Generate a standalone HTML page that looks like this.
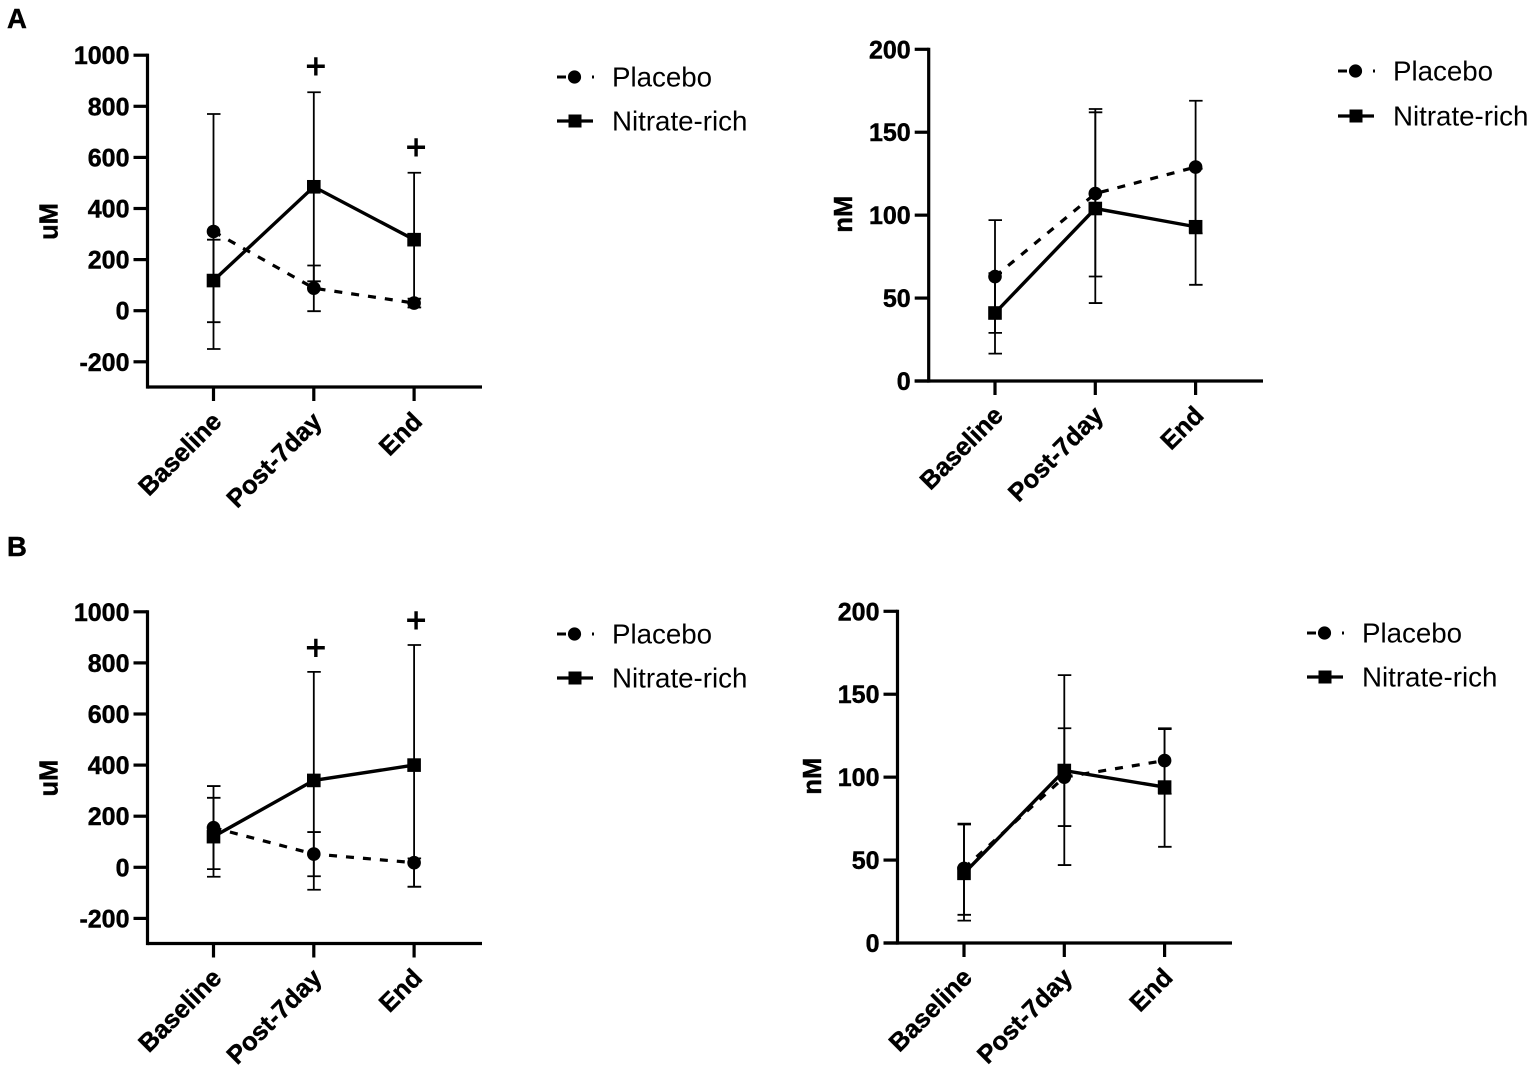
<!DOCTYPE html>
<html>
<head>
<meta charset="utf-8">
<title>Placebo vs Nitrate-rich panels</title>
<style>
html,body{margin:0;padding:0;background:#fff;}
svg{display:block;}
text{font-family:"Liberation Sans",sans-serif;fill:#000;}
.bold{font-weight:bold;stroke:#000;stroke-width:0.45px;}
</style>
</head>
<body>
<svg id="figure" width="1535" height="1073" viewBox="0 0 1535 1073" xmlns="http://www.w3.org/2000/svg">
<text class="bold" x="7" y="28" font-size="27.5">A</text>
<text class="bold" x="7" y="556" font-size="27.5">B</text>
</svg>
<script>
const categories = ['Baseline', 'Post-7day', 'End'];
const uMTicks = [-200, 0, 200, 400, 600, 800, 1000];
const nMTicks = [0, 50, 100, 150, 200];

const aUmPlaceboMean = [310, 88, 30];
const aUmPlaceboUpper = [770, 177, 47];
const aUmPlaceboLower = [-150, -2, 13];
const aUmNitrateMean = [118, 485, 278];
const aUmNitrateUpper = [278, 855, 540];
const aUmNitrateLower = [-45, 115, 13];
const aUmMarks = ['', '+', '+'];
const aUmMarkValues = [0, 955, 638];

const aNmPlaceboMean = [63, 113, 129];
const aNmPlaceboUpper = [97, 164, 169];
const aNmPlaceboLower = [29, 63, 89];
const aNmNitrateMean = [41, 104, 93];
const aNmNitrateUpper = [65, 162, 128];
const aNmNitrateLower = [16.5, 47, 58];

const bUmPlaceboMean = [155, 52, 18];
const bUmPlaceboUpper = [318, 138, 35];
const bUmPlaceboLower = [-7, -35, -76];
const bUmNitrateMean = [120, 340, 400];
const bUmNitrateUpper = [272, 765, 870];
const bUmNitrateLower = [-37, -88, -76];
const bUmMarks = ['', '+', '+'];
const bUmMarkValues = [0, 858, 965];

const bNmPlaceboMean = [45, 100, 110];
const bNmPlaceboUpper = [72, 129.5, 129.5];
const bNmPlaceboLower = [17, 70.5, 90];
const bNmNitrateMean = [42, 104, 94];
const bNmNitrateUpper = [71.5, 161.5, 129];
const bNmNitrateLower = [13.5, 47, 58];

const svg = document.getElementById('figure');
const NS = 'http://www.w3.org/2000/svg';

function el(tag, attrs, parent) {
  const node = document.createElementNS(NS, tag);
  for (const k in attrs) node.setAttribute(k, attrs[k]);
  parent.appendChild(node);
  return node;
}

function drawMarker(kind, x, y, parent) {
  if (kind === 'circle') {
    const c = el('circle', { cx: x, cy: y, r: 6.8, fill: '#000' }, parent);
    
    
  } else {
    const r = el('rect', { x: x - 6.8, y: y - 6.8, width: 13.6, height: 13.6, fill: '#000' }, parent);
    
    
  }
}

function drawSeries(g, xs, yScale, mean, upper, lower, kind, dash, name) {
  const sg = el('g', {}, g);
  
  
  mean.forEach((_, i) => {
    const x = xs[i];
    const bar = el('path', {
      d: 'M' + x + ' ' + yScale(upper[i]) + 'V' + yScale(lower[i]) +
         'M' + (x - 6.5) + ' ' + yScale(upper[i]) + 'h13.5' +
         'M' + (x - 6.5) + ' ' + yScale(lower[i]) + 'h13.5',
      stroke: '#000', 'stroke-width': 1.8, fill: 'none'
    }, sg);
    
    
  });
  const pts = mean.map((v, i) => xs[i] + ',' + yScale(v)).join(' ');
  const line = el('polyline', {
    points: pts, fill: 'none', stroke: '#000', 'stroke-width': dash ? 3.2 : 3.4
  }, sg);
  if (dash) line.setAttribute('stroke-dasharray', '8 9');
  
  
  mean.forEach((v, i) => drawMarker(kind, xs[i], yScale(v), sg));
}

function drawLegend(g, x, y1, y2) {
  const lg = el('g', {}, g);
  
  

  const e1 = el('g', {}, lg);
  
  
  el('path', { d: 'M' + x + ' ' + y1 + 'h9M' + (x + 35) + ' ' + y1 + 'h2', stroke: '#000', 'stroke-width': 3, fill: 'none' }, e1);
  el('circle', { cx: x + 17.5, cy: y1, r: 6.6, fill: '#000' }, e1);
  const t1 = el('text', { x: x + 55, y: y1 + 9.5, 'font-size': 27.7 }, e1);
  t1.textContent = 'Placebo';

  const e2 = el('g', {}, lg);
  
  
  el('path', { d: 'M' + x + ' ' + y2 + 'h36', stroke: '#000', 'stroke-width': 3.3, fill: 'none' }, e2);
  el('rect', { x: x + 11.5, y: y2 - 6.5, width: 13, height: 13, fill: '#000' }, e2);
  const t2 = el('text', { x: x + 55, y: y2 + 9.5, 'font-size': 27.7 }, e2);
  t2.textContent = 'Nitrate-rich';
}

function drawPanel(name, box, ticks, unit, placebo, nitrate, legend, marks, markValues) {
  const g = el('g', {}, svg);
  
  

  const yScale = v => box.y0 - (v - box.v0) * box.ppu;
  const xScale = i => box.cat0 + i * 100.3;
  const xs = categories.map((_, i) => xScale(i));

  const yAxis = el('path', { d: 'M' + box.ax + ' ' + yScale(ticks[ticks.length - 1]) + 'V' + box.bottom, stroke: '#000', 'stroke-width': 3.2, fill: 'none', 'stroke-linecap': 'square' }, g);
  
  
  const xAxis = el('path', { d: 'M' + (ticks[0] === 0 ? box.ax - 14 : box.ax) + ' ' + box.bottom + 'H' + box.right, stroke: '#000', 'stroke-width': 3.2, fill: 'none' }, g);
  
  

  ticks.forEach(v => {
    const y = yScale(v);
    const tick = el('path', { d: 'M' + (box.ax - 14) + ' ' + y + 'H' + box.ax, stroke: '#000', 'stroke-width': 3.2, fill: 'none' }, g);
    
    
    const lab = el('text', { class: 'bold', x: box.ax - 18, y: y + 9, 'text-anchor': 'end', 'font-size': 25 }, g);
    lab.textContent = v;
    
    
  });

  categories.forEach((c, i) => {
    const x = xs[i];
    const tick = el('path', { d: 'M' + x + ' ' + box.bottom + 'v14', stroke: '#000', 'stroke-width': 3.2, fill: 'none' }, g);
    
    
    const ax = x + 9.5, ay = box.bottom + 36;
    const lab = el('text', { class: 'bold', x: ax, y: ay, 'text-anchor': 'end', 'font-size': 25.5, transform: 'rotate(-45 ' + ax + ' ' + ay + ')' }, g);
    lab.textContent = c;
    
    
  });

  const isNm = ticks[0] === 0;
  const ux = box.ax - (isNm ? 76.5 : 90);
  const uy = (yScale(ticks[0]) + yScale(ticks[ticks.length - 1])) / 2 + (isNm ? -1 : 13);
  const ut = el('text', { class: 'bold', x: ux, y: uy, 'text-anchor': 'middle', 'font-size': 25.5, transform: 'rotate(-90 ' + ux + ' ' + uy + ')' }, g);
  ut.textContent = unit;
  
  

  drawSeries(g, xs, yScale, placebo[0], placebo[1], placebo[2], 'circle', true, 'placebo');
  drawSeries(g, xs, yScale, nitrate[0], nitrate[1], nitrate[2], 'square', false, 'nitrate-rich');

  if (marks) {
    marks.forEach((m, i) => {
      if (!m) return;
      const t = el('text', { x: xs[i] + 2, y: yScale(markValues[i]) + 11.5, 'text-anchor': 'middle', 'font-size': 35, stroke: '#000', 'stroke-width': 0.9 }, g);
      t.textContent = m;
      
      
    });
  }

  drawLegend(g, legend.x, legend.y1, legend.y2);
}

drawPanel('panel-a-um-chart',
  { ax: 147.5, y0: 310.7, v0: 0, ppu: 0.2555, bottom: 387, right: 482, cat0: 213.5 },
  uMTicks, 'uM',
  [aUmPlaceboMean, aUmPlaceboUpper, aUmPlaceboLower],
  [aUmNitrateMean, aUmNitrateUpper, aUmNitrateLower],
  { x: 557, y1: 77, y2: 121 }, aUmMarks, aUmMarkValues);

drawPanel('panel-a-nm-chart',
  { ax: 928.7, y0: 381, v0: 0, ppu: 1.6585, bottom: 381, right: 1263, cat0: 995 },
  nMTicks, 'nM',
  [aNmPlaceboMean, aNmPlaceboUpper, aNmPlaceboLower],
  [aNmNitrateMean, aNmNitrateUpper, aNmNitrateLower],
  { x: 1338, y1: 71, y2: 116 });

drawPanel('panel-b-um-chart',
  { ax: 147.5, y0: 867.3, v0: 0, ppu: 0.2555, bottom: 943.5, right: 482, cat0: 213.5 },
  uMTicks, 'uM',
  [bUmPlaceboMean, bUmPlaceboUpper, bUmPlaceboLower],
  [bUmNitrateMean, bUmNitrateUpper, bUmNitrateLower],
  { x: 557, y1: 634, y2: 678 }, bUmMarks, bUmMarkValues);

drawPanel('panel-b-nm-chart',
  { ax: 897.5, y0: 943, v0: 0, ppu: 1.6585, bottom: 943, right: 1232, cat0: 964 },
  nMTicks, 'nM',
  [bNmPlaceboMean, bNmPlaceboUpper, bNmPlaceboLower],
  [bNmNitrateMean, bNmNitrateUpper, bNmNitrateLower],
  { x: 1307, y1: 633, y2: 677 });
</script>
</body>
</html>
